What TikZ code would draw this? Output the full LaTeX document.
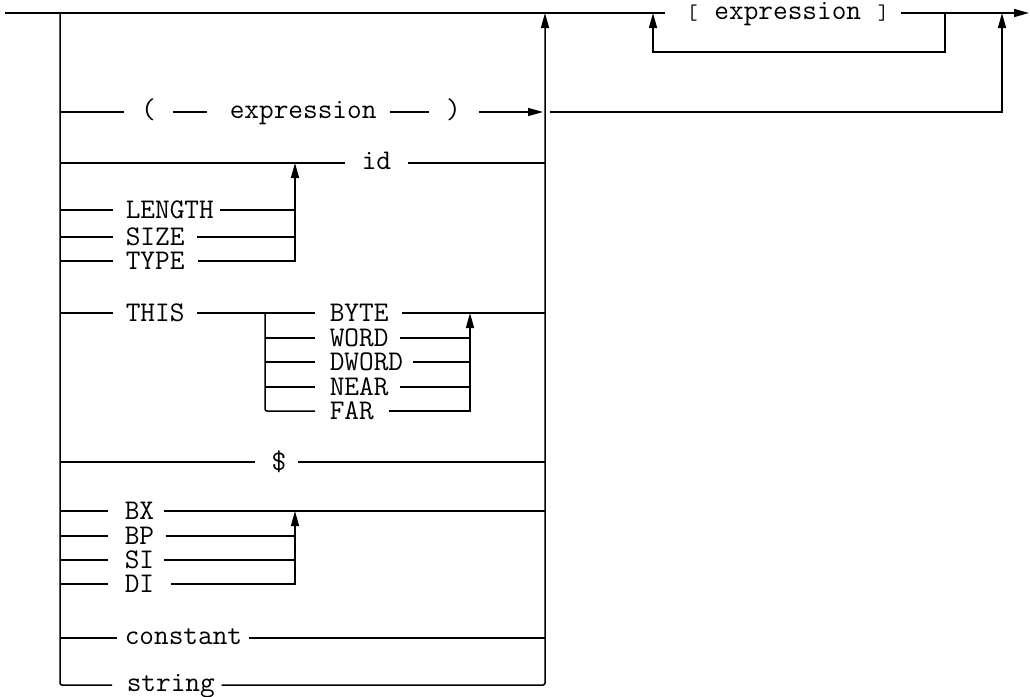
\documentclass[tikz,border=0pt]{standalone}
\usetikzlibrary{arrows.meta}
\begin{document}
\begin{tikzpicture}[x=1pt,y=-1pt,line width=1.5pt,
  lab/.style={font=\ttfamily\fontsize{28.5}{34}\selectfont,inner sep=0pt,anchor=west,text depth=0pt},
  capl/.style={lab,text height=17.5pt},
  lowl/.style={lab,text height=12.3pt},
  arr/.style={-{Triangle[length=15pt,width=8pt]}},
  wire/.style={rounded corners=2pt}]
\fill[white] (0,0) rectangle (1030,696);
\useasboundingbox (0,0) rectangle (1030,696);

% junction coordinates
\coordinate (start) at (5,13);
\coordinate (railT) at (60,13);
\coordinate (railB) at (60,685);
\coordinate (mainT) at (545,13);
\coordinate (mainB) at (545,685);
\coordinate (finish) at (1029,13);
\coordinate (loopL) at (653,13);
\coordinate (loopLB) at (653,52);
\coordinate (loopR) at (945,13);
\coordinate (loopRB) at (945,52);
\coordinate (crossS) at (550,112);
\coordinate (outB) at (1002,112);
\coordinate (outT) at (1002,13);
\coordinate (parEnd) at (543,112);
\coordinate (idJ) at (295,163);
\coordinate (lenJ) at (295,210);
\coordinate (sizJ) at (295,237);
\coordinate (typJ) at (295,261);
\coordinate (thisJ) at (545,313);
\coordinate (brT) at (265,313);
\coordinate (brB) at (265,411);
\coordinate (byJ) at (470,313);
\coordinate (woJ) at (470,338);
\coordinate (dwJ) at (470,362);
\coordinate (neJ) at (470,387);
\coordinate (faJ) at (470,411);
\coordinate (regT) at (295,511);
\coordinate (bpJ) at (295,536);
\coordinate (siJ) at (295,560);
\coordinate (diJ) at (295,584);

% labels
\node[lowl] (brk) at (684,13) {\makebox[0.525em]{\fontsize{21}{24}\selectfont[} expression \makebox[0.525em]{\fontsize{21}{24}\selectfont]}};
\node[lowl,anchor=center] (lp) at (148.5,112) {(};
\node[lowl] (ex) at (229,112) {expression};
\node[lowl,anchor=center] (rp) at (453.5,112) {)};
\node[lowl] (id) at (361,163) {id};
\node[capl] (len) at (125,210) {LENGTH};
\node[capl] (siz) at (125,237) {SIZE};
\node[capl] (typ) at (125,261) {TYPE};
\node[capl] (this) at (125,313) {THIS};
\node[capl] (byte) at (329,313) {BYTE};
\node[capl] (word) at (329,338) {WORD};
\node[capl] (dword) at (329,362) {DWORD};
\node[capl] (near) at (329,387) {NEAR};
\node[capl] (far) at (329,411) {FAR};
\node[capl,anchor=center] (dol) at (279,462) {\$};
\node[capl] (bx) at (124,511) {BX};
\node[capl] (bp) at (124,536) {BP};
\node[capl] (si) at (124,560) {SI};
\node[capl] (di) at (124,584) {DI};
\node[lowl] (con) at (124,638) {constant};
\node[lowl] (str) at (126,685) {string};

% top line and optional [ expression ] loop
\draw[shorten >=19pt] (start) -- (brk.west);
\draw[arr,shorten <=9pt] (brk.east) -- (finish);
\draw[arr] (loopR) -- (loopRB) -- (loopLB) -- (loopL);
\draw[arr] (crossS) -- (outB) -- (outT);

% left rail and main collector
\draw[wire,shorten >=14pt] (railT) -- (railB) -- (str.west);
\draw[wire,arr,shorten <=6pt] (str.east) -- (mainB) -- (mainT);

% ( expression )
\draw[shorten >=16pt] (railT |- lp.west) -- (lp.west);
\draw[shorten <=16pt,shorten >=22pt] (lp.east) -- (ex.west);
\draw[shorten <=13pt,shorten >=16pt] (ex.east) -- (rp.west);
\draw[arr,shorten <=17pt] (rp.east) -- (parEnd);

% id and LENGTH / SIZE / TYPE
\draw[shorten >=16pt] (railT |- id.west) -- (id.west);
\draw[shorten <=16pt] (id.east) -- (mainT |- id.east);
\draw[shorten >=12pt] (railT |- len.west) -- (len.west);
\draw[shorten >=12pt] (railT |- siz.west) -- (siz.west);
\draw[shorten >=12pt] (railT |- typ.west) -- (typ.west);
\draw[shorten <=5pt] (len.east) -- (lenJ);
\draw[shorten <=12pt] (siz.east) -- (sizJ);
\draw[arr,shorten <=13pt] (typ.east) -- (typJ) -- (idJ);

% THIS
\draw[shorten >=12pt] (railT |- this.west) -- (this.west);
\draw[shorten <=12pt] (this.east) -- (brT);
\draw[shorten >=14pt] (brT) -- (byte.west);
\draw[shorten >=14pt] (brT |- word.west) -- (word.west);
\draw[shorten >=14pt] (brT |- dword.west) -- (dword.west);
\draw[shorten >=14pt] (brT |- near.west) -- (near.west);
\draw[wire,shorten >=14pt] (brT) -- (brB) -- (far.west);
\draw[shorten <=13pt] (byte.east) -- (thisJ);
\draw[shorten <=11pt] (word.east) -- (woJ);
\draw[shorten <=9pt] (dword.east) -- (dwJ);
\draw[shorten <=11pt] (near.east) -- (neJ);
\draw[arr,shorten <=14pt] (far.east) -- (faJ) -- (byJ);

% $
\draw[shorten >=16pt] (railT |- dol.west) -- (dol.west);
\draw[shorten <=11pt] (dol.east) -- (mainT |- dol.east);

% registers
\draw[shorten >=16pt] (railT |- bx.west) -- (bx.west);
\draw[shorten >=16pt] (railT |- bp.west) -- (bp.west);
\draw[shorten >=16pt] (railT |- si.west) -- (si.west);
\draw[shorten >=16pt] (railT |- di.west) -- (di.west);
\draw[shorten <=9pt] (bx.east) -- (mainT |- bx.east);
\draw[shorten <=11pt] (bp.east) -- (bpJ);
\draw[shorten <=9pt] (si.east) -- (siJ);
\draw[arr,shorten <=16pt] (di.east) -- (diJ) -- (regT);

% constant
\draw[shorten >=7pt] (railT |- con.west) -- (con.west);
\draw[shorten <=6pt] (con.east) -- (mainT |- con.east);
\end{tikzpicture}
\end{document}
